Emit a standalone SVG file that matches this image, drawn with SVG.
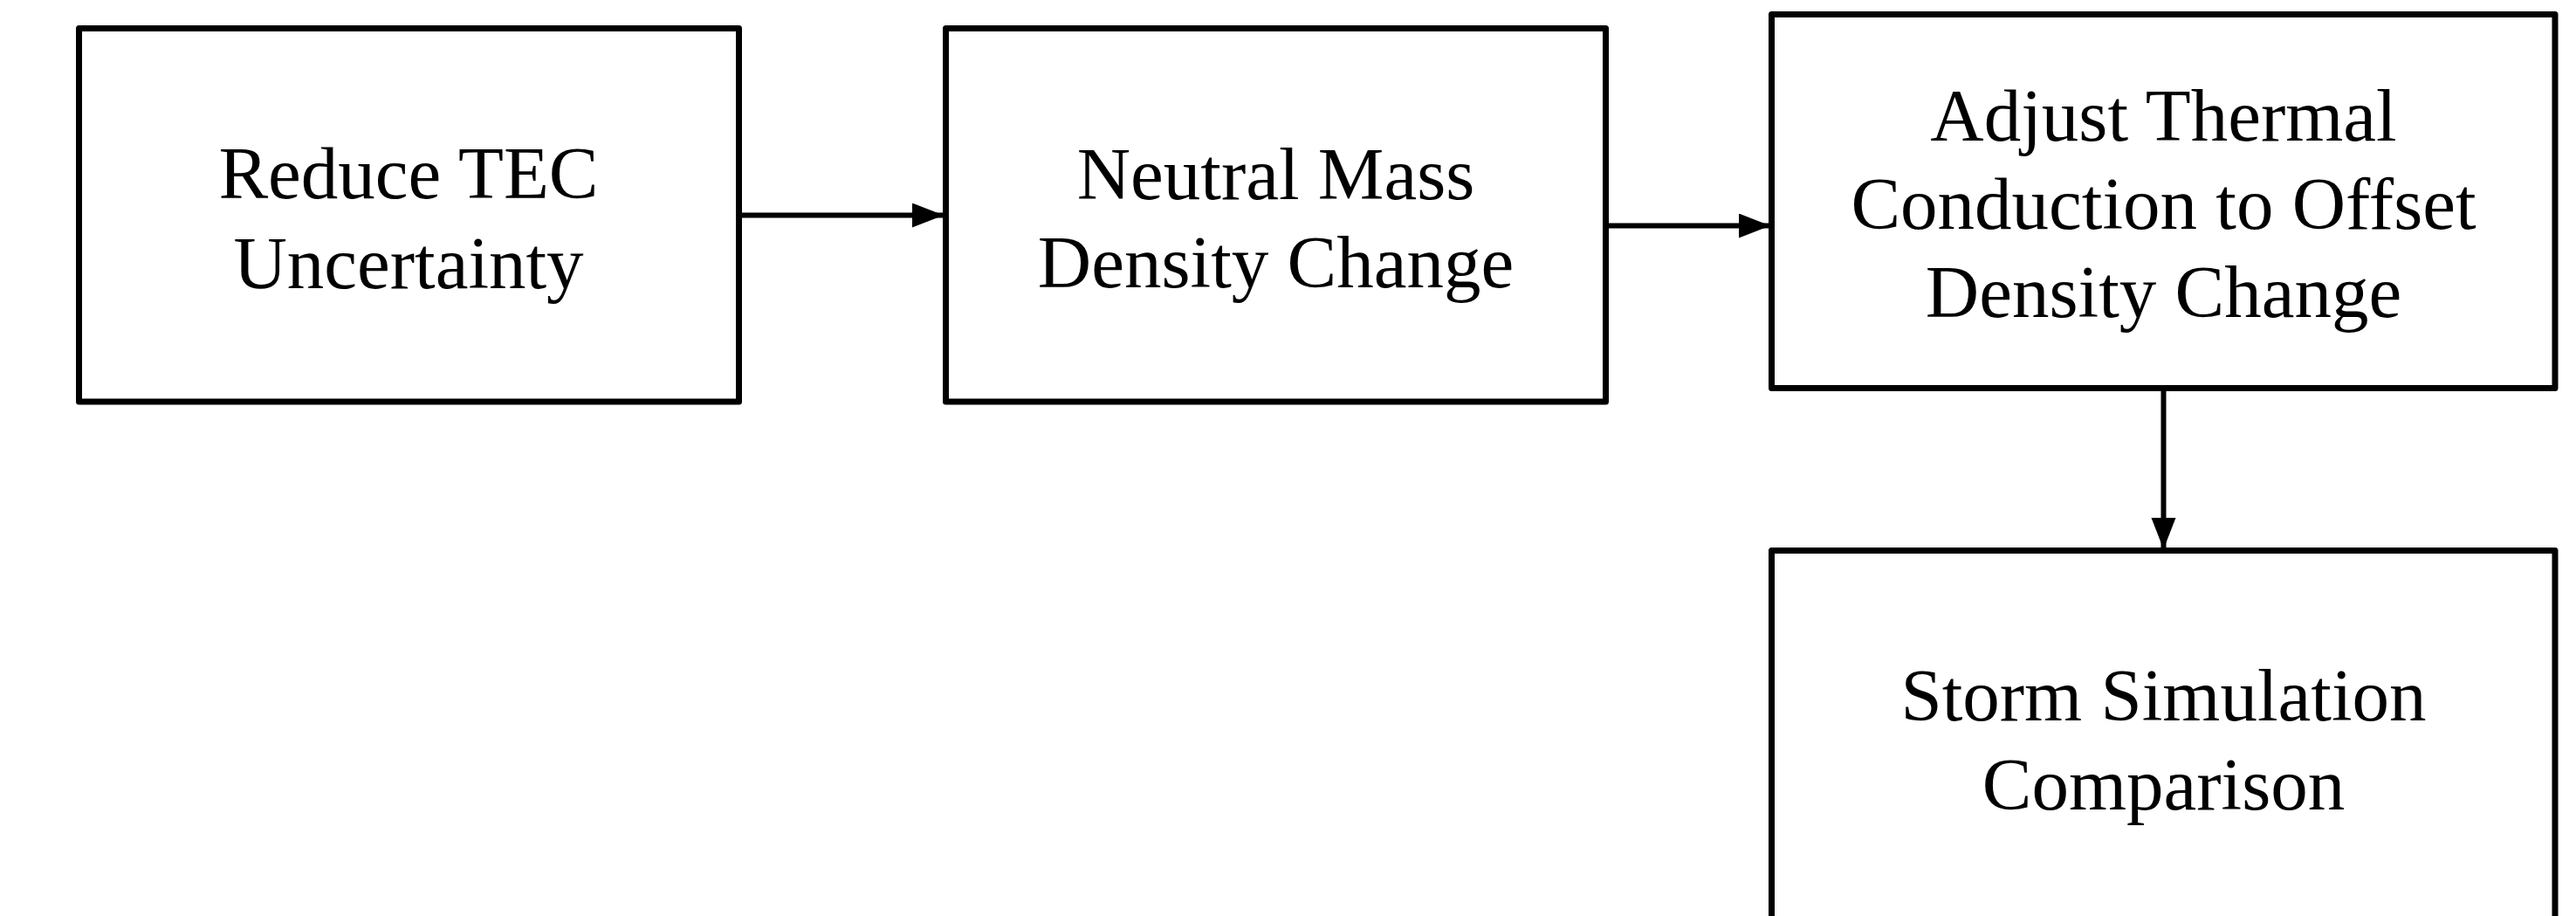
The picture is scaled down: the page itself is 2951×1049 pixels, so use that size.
<svg xmlns="http://www.w3.org/2000/svg" width="2951" height="1049" viewBox="0 0 2951 1049">
<style>
.box{fill:#fff;stroke:#000;stroke-width:7;stroke-linejoin:round}
.lbl{font-family:"Liberation Serif","Times New Roman",serif;font-size:85px;fill:#000;text-anchor:middle}
.con{stroke:#000;stroke-width:6;fill:none}
</style>
<defs>
<marker id="arr" markerUnits="userSpaceOnUse" markerWidth="40" markerHeight="30" refX="36" refY="14" orient="auto">
<path d="M0,0 L36,14 L0,28 Z" fill="#000"/>
</marker>
</defs>
<rect width="2951" height="1049" fill="#fff"/>
<g id="connectors">
<line class="con" x1="847" y1="246.5" x2="1081" y2="246.5" marker-end="url(#arr)"/>
<line class="con" x1="1840" y1="258.5" x2="2028" y2="258.5" marker-end="url(#arr)"/>
<line class="con" x1="2478.5" y1="445" x2="2478.5" y2="629" marker-end="url(#arr)"/>
</g>
<g id="node1">
<rect class="box" x="90.5" y="32.5" width="756" height="427.5"/>
<text class="lbl" x="468" y="226.5">Reduce TEC</text>
<text class="lbl" x="468" y="330">Uncertainty</text>
</g>
<g id="node2">
<rect class="box" x="1083.5" y="32.5" width="756" height="427.5"/>
<text class="lbl" x="1461.5" y="227.5">Neutral Mass</text>
<text class="lbl" x="1461.5" y="328.5">Density Change</text>
</g>
<g id="node3">
<rect class="box" x="2029.5" y="16.5" width="897.5" height="428"/>
<text class="lbl" x="2478.5" y="160.5">Adjust Thermal</text>
<text class="lbl" x="2478.5" y="261.5">Conduction to Offset</text>
<text class="lbl" x="2478.5" y="363">Density Change</text>
</g>
<g id="node4">
<rect class="box" x="2029.5" y="630.5" width="897.5" height="436"/>
<text class="lbl" x="2478.5" y="825">Storm Simulation</text>
<text class="lbl" x="2478.5" y="927">Comparison</text>
</g>
</svg>
